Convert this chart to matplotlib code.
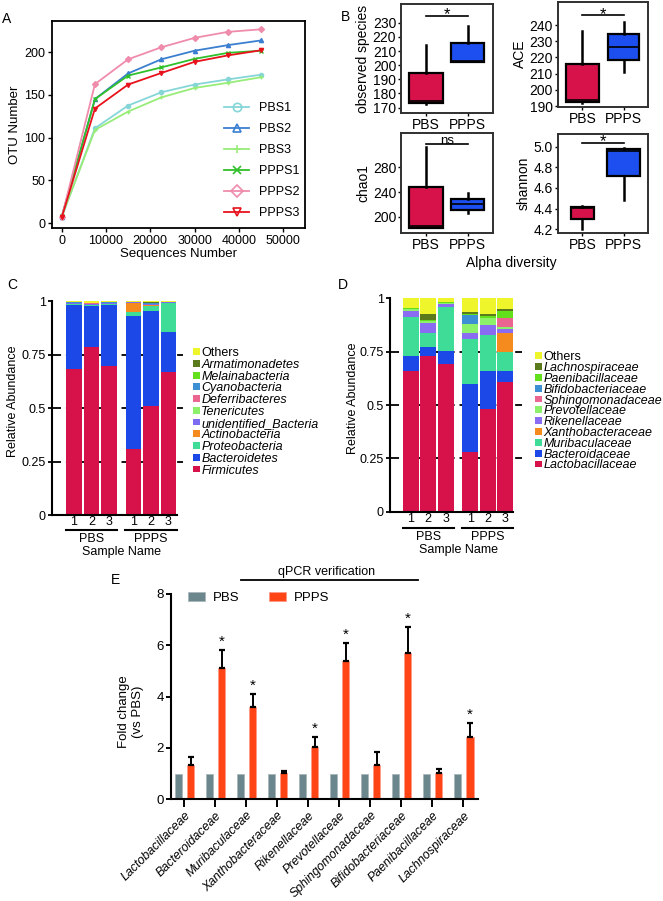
import numpy as np
import matplotlib.pyplot as plt
from matplotlib.lines import Line2D
from matplotlib.patches import Rectangle
import matplotlib.transforms as mtransforms

plt.rcParams['font.family'] = ['Liberation Sans', 'DejaVu Sans']

# ---- A: rarefaction curves ----
seq_depth = [0, 7500, 15000, 22500, 30000, 37500, 45000]
otu_pbs1 = [7, 111, 137.5, 153, 162, 168, 173.5]
otu_pbs2 = [7, 145, 175, 191.5, 201.5, 208, 213.5]
otu_pbs3 = [8, 109, 130.5, 147, 158, 164, 170.5]
otu_ppps1 = [8, 145, 172.5, 182, 192, 199, 201.5]
otu_ppps2 = [7, 162.5, 191.5, 205.5, 216.5, 223.5, 226.5]
otu_ppps3 = [7, 134, 162, 175.5, 188.5, 196, 202]
curve_names = ['PBS1', 'PBS2', 'PBS3', 'PPPS1', 'PPPS2', 'PPPS3']

# ---- B: alpha diversity (box stats: whislo, q1, med, q3, whishi) ----
groups = ['PBS', 'PPPS']
obs_pbs = [172.8, 173.3, 174.5, 194.8, 214.5]
obs_ppps = [202.0, 202.3, 202.7, 215.6, 228.0]
ace_pbs = [191.7, 192.3, 193.5, 215.7, 236.3]
ace_ppps = [210.8, 218.4, 226.6, 234.6, 242.0]
chao_pbs = [182.1, 182.3, 184.9, 248.6, 313.4]
chao_ppps = [205.4, 210.8, 220.0, 229.1, 238.8]
shan_pbs = [4.206, 4.297, 4.405, 4.413, 4.426]
shan_ppps = [4.484, 4.716, 4.958, 4.974, 4.987]

# ---- C: phylum composition (bottom -> top), samples PBS1-3, PPPS1-3 ----
sample_ticks = ['1', '2', '3', '1', '2', '3']
phylum_names = ['Firmicutes', 'Bacteroidetes', 'Proteobacteria', 'Actinobacteria',
                'unidentified_Bacteria', 'Tenericutes', 'Deferribacteres',
                'Cyanobacteria', 'Melainabacteria', 'Armatimonadetes', 'Others']
phylum_values = [
    [0.682, 0.785, 0.698, 0.310, 0.511, 0.670],
    [0.299, 0.192, 0.285, 0.620, 0.442, 0.185],
    [0.004, 0.004, 0.003, 0.020, 0.025, 0.135],
    [0.001, 0.001, 0.001, 0.040, 0.002, 0.001],
    [0.003, 0.004, 0.002, 0.003, 0.004, 0.002],
    [0.001, 0.001, 0.001, 0.001, 0.002, 0.001],
    [0.002, 0.002, 0.002, 0.001, 0.002, 0.002],
    [0.001, 0.001, 0.001, 0.001, 0.002, 0.001],
    [0.000, 0.000, 0.000, 0.000, 0.001, 0.000],
    [0.000, 0.001, 0.000, 0.000, 0.005, 0.000],
    [0.007, 0.009, 0.007, 0.004, 0.004, 0.003],
]

# ---- D: family composition ----
family_names = ['Lactobacillaceae', 'Bacteroidaceae', 'Muribaculaceae', 'Xanthobacteraceae',
                'Rikenellaceae', 'Prevotellaceae', 'Sphingomonadaceae',
                'Bifidobacteriaceae', 'Paenibacillaceae', 'Lachnospiraceae', 'Others']
family_values = [
    [0.661, 0.731, 0.692, 0.281, 0.480, 0.606],
    [0.069, 0.042, 0.063, 0.316, 0.179, 0.055],
    [0.184, 0.063, 0.206, 0.211, 0.169, 0.089],
    [0.000, 0.000, 0.000, 0.001, 0.001, 0.086],
    [0.027, 0.047, 0.011, 0.027, 0.046, 0.019],
    [0.009, 0.009, 0.005, 0.042, 0.031, 0.009],
    [0.001, 0.002, 0.001, 0.003, 0.002, 0.044],
    [0.001, 0.001, 0.001, 0.040, 0.002, 0.002],
    [0.002, 0.004, 0.002, 0.005, 0.005, 0.032],
    [0.002, 0.028, 0.001, 0.008, 0.010, 0.006],
    [0.044, 0.073, 0.018, 0.066, 0.075, 0.052],
]

# ---- E: qPCR ----
qpcr_families = ['Lactobacillaceae', 'Bacteroidaceae', 'Muribaculaceae', 'Xanthobacteraceae',
                 'Rikenellaceae', 'Prevotellaceae', 'Sphingomonadaceae',
                 'Bifidobacteriaceae', 'Paenibacillaceae', 'Lachnospiraceae']
qpcr_pbs = [1.0, 1.0, 1.0, 1.0, 1.0, 1.0, 1.0, 1.0, 1.0, 1.0]
qpcr_ppps = [1.32, 5.13, 3.61, 1.04, 2.03, 5.37, 1.32, 5.70, 1.04, 2.44]
qpcr_err = [0.32, 0.69, 0.49, 0.07, 0.40, 0.72, 0.51, 1.00, 0.15, 0.55]
qpcr_sig = ['', '*', '*', '', '*', '*', '', '*', '', '*']

W, H = 663, 901
fig = plt.figure(figsize=(W / 100, H / 100), dpi=100)


def px_rect(l, t, r, b):
    return [l / W, 1 - b / H, (r - l) / W, (b - t) / H]


def fx(x):
    return x / W


def fy(y):
    return 1 - y / H


RED = '#d7124a'
BLUE = '#1d4ff0'

# ================= A =================
axA = fig.add_axes(px_rect(52, 21, 305, 228))
curve_colors = ['#86d6d8', '#3b7fd0', '#98ec78', '#2fc02a', '#f08cab', '#e8121c']
curve_markers = ['o', '^', '+', 'x', 'D', 'v']
for vals, c, m in zip([otu_pbs1, otu_pbs2, otu_pbs3, otu_ppps1, otu_ppps2, otu_ppps3],
                      curve_colors, curve_markers):
    axA.plot(seq_depth, vals, color=c, lw=1.3, marker=m, ms=3, mew=1)
axA.set_xlim(-2200, 54950)
axA.set_ylim(-5.5, 236.2)
axA.set_xticks([0, 10000, 20000, 30000, 40000, 50000])
axA.set_yticks([0, 50, 100, 150, 200])
axA.tick_params(direction='out', length=3, width=1, labelsize=9, pad=2)
for s in axA.spines.values():
    s.set_linewidth(1.3)
axA.set_xlabel('Sequences Number', fontsize=9.5, labelpad=1)
axA.set_ylabel('OTU Number', fontsize=9.5, labelpad=2)
handles = [Line2D([], [], color=c, lw=1.3, marker=m, ms=6, mfc='none', mew=1.2, label=n)
           for c, m, n in zip(curve_colors, curve_markers, curve_names)]
fig.legend(handles=handles, loc='center left', bbox_to_anchor=(fx(224), fy(160.5)),
           frameon=False, fontsize=9, borderpad=0, borderaxespad=0, handlelength=2.0,
           handletextpad=0.8, labelspacing=0.72)

# ================= B =================


def box_panel(rect, pbs, ppps, widths, ylim, yticks, ylabel, sig, sig_y, fmt=None):
    ax = fig.add_axes(px_rect(*rect))
    stats = []
    for g, v in zip(groups, [pbs, ppps]):
        stats.append(dict(label=g, whislo=v[0], q1=v[1], med=v[2], q3=v[3], whishi=v[4], fliers=[]))
    bp = ax.bxp(stats, positions=[1, 2], widths=widths, patch_artist=True, showfliers=False,
                showcaps=False,
                boxprops=dict(linewidth=1.6, edgecolor='black'),
                medianprops=dict(color='black', linewidth=1.2),
                whiskerprops=dict(color='black', linewidth=1.8))
    for patch, c in zip(bp['boxes'], [RED, BLUE]):
        patch.set_facecolor(c)
    ax.set_xlim(0.4, 2.6)
    ax.set_ylim(*ylim)
    ax.set_yticks(yticks)
    if fmt:
        ax.set_yticklabels([fmt % t for t in yticks])
    ax.tick_params(direction='out', length=2.5, width=1, labelsize=10, pad=1)
    for s in ax.spines.values():
        s.set_linewidth(1.4)
        s.set_color('#303030')
    ax.set_ylabel(ylabel, fontsize=10, labelpad=2)
    ax.plot([1, 2], [sig_y, sig_y], color='black', lw=1.2)
    if sig == 'ns':
        ax.annotate(sig, (1.5, sig_y), xytext=(0, 0.3), textcoords='offset points',
                    ha='center', va='baseline', fontsize=9.5)
    else:
        ax.annotate(sig, (1.5, sig_y), xytext=(0, -2.5), textcoords='offset points',
                    ha='center', va='baseline', fontsize=12)
    return ax


box_panel((401, 4, 492.7, 113.3), obs_pbs, obs_ppps, [0.8, 0.79], (166.0, 243.2),
          [170, 180, 190, 200, 210, 220, 230], 'observed species', '*', 234.9)
box_panel((557.7, 1.7, 648.3, 106.7), ace_pbs, ace_ppps, [0.8, 0.76], (189.6, 254.4),
          [190, 200, 210, 220, 230, 240], 'ACE', '*', 245.9)
box_panel((401, 133, 492.7, 233), chao_pbs, chao_ppps, [0.8, 0.78], (173.6, 335.6),
          [200, 240, 280], 'chao1', 'ns', 317.8)
box_panel((557.7, 134, 648.3, 232.7), shan_pbs, shan_ppps, [0.57, 0.79], (4.167, 5.123),
          [4.2, 4.4, 4.6, 4.8, 5.0], 'shannon', '*', 5.039, fmt='%.1f')
fig.text(fx(511), fy(263), 'Alpha diversity', fontsize=10, ha='center', va='center')

# ================= C / D =================
sample_pos = np.array([0, 1, 2, 3.4, 4.4, 5.4])


def stack_panel(rect, xlim, axis_end, values, names, colors, key_x, key_y0, key_step,
                ylabel_x, line_y, grp_y, name_y):
    ax = fig.add_axes(px_rect(*rect))
    bottom = np.zeros(len(sample_pos))
    for vals, c in zip(values, colors):
        ax.bar(sample_pos, vals, width=0.91, bottom=bottom, color=c, linewidth=0, zorder=2)
        bottom = bottom + np.array(vals)
    for yv in [0.25, 0.5, 0.75]:
        ax.axhline(yv, color='black', lw=1.3, ls=(0, (5, 2.7)), zorder=1)
    ax.set_xlim(*xlim)
    ax.set_ylim(0, 1)
    ax.spines['top'].set_visible(False)
    ax.spines['right'].set_visible(False)
    ax.spines['left'].set_linewidth(1.5)
    ax.spines['bottom'].set_linewidth(1.5)
    ax.spines['bottom'].set_bounds(xlim[0], axis_end)
    ax.set_yticks([0, 0.25, 0.5, 0.75, 1])
    ax.set_yticklabels(['0', '0.25', '0.5', '0.75', '1'])
    ax.tick_params(axis='y', direction='out', length=3, width=1.3, labelsize=9, pad=1.5)
    ax.set_xticks(sample_pos)
    ax.set_xticklabels(sample_ticks)
    ax.tick_params(axis='x', length=0, labelsize=9, pad=1)
    fig.text(fx(ylabel_x), fy(rect[1] + 100), 'Relative Abundance', rotation=90,
             fontsize=9, ha='center', va='center')
    tr = mtransforms.blended_transform_factory(ax.transData, fig.transFigure)
    for lo, hi, g in [(0, 2, 'PBS'), (3.4, 5.4, 'PPPS')]:
        ax.add_line(Line2D([lo - 0.46, hi + 0.46], [fy(line_y), fy(line_y)], transform=tr,
                           color='black', lw=1.5, clip_on=False))
        ax.text((lo + hi) / 2, fy(grp_y), g, transform=tr, ha='center', va='center', fontsize=9)
    ax.text(2.7, fy(name_y), 'Sample Name', transform=tr, ha='center', va='center', fontsize=9)
    # key, top entry = last stacked taxon
    for i, (n, c) in enumerate(zip(names[::-1], colors[::-1])):
        y = key_y0 + i * key_step
        fig.add_artist(Rectangle((fx(key_x), fy(y + 3.4)), 6.8 / W, 6.8 / H,
                                 facecolor=c, edgecolor='none', transform=fig.transFigure))
        fig.text(fx(key_x + 8.5), fy(y), n, fontsize=9, ha='left', va='center_baseline',
                 style='normal' if n == 'Others' else 'italic')
    return ax


phylum_colors = [RED, '#1d48e8', '#3edc97', '#f58b1e', '#7c6cf2', '#8cf06a', '#ea6590',
                 '#3b8fd2', '#62e01c', '#5b7a1c', '#eef52a']
stack_panel((52, 301, 183, 515), (-1.257, 6.23), 5.87, phylum_values, phylum_names,
            phylum_colors, 192.7, 351.7, 11.73, 13.5, 529.5, 538.5, 551.7)

family_colors = [RED, '#1d48e8', '#3edc97', '#f58b1e', '#8a6cf2', '#8cf06a', '#ea6590',
                 '#3b8fd2', '#62e01c', '#5b7a1c', '#eef52a']
stack_panel((390, 298.3, 521.7, 511.7), (-1.19, 6.34), 5.86, family_values, family_names,
            family_colors, 535, 355.7, 10.83, 352.7, 528.3, 537.3, 550)

# ================= E =================
axE = fig.add_axes(px_rect(171, 594, 478, 799.3))
xe = np.arange(len(qpcr_families))
axE.bar(xe - 0.19, qpcr_pbs, width=0.25, color='#6c868d', edgecolor='#a9b7bb', linewidth=0.6,
        label='PBS')
axE.bar(xe + 0.2, qpcr_ppps, width=0.25, color='#ff4516', edgecolor='#ff9a86', linewidth=0.6,
        label='PPPS')
axE.errorbar(xe + 0.2, qpcr_ppps, yerr=[np.zeros(len(qpcr_err)), qpcr_err], fmt='none',
             ecolor='black', elinewidth=1.4, capsize=2, capthick=1.6)
for xi, v, e, s in zip(xe, qpcr_ppps, qpcr_err, qpcr_sig):
    if s:
        axE.annotate(s, (xi + 0.2, v + e), xytext=(0, 3), textcoords='offset points',
                     ha='center', va='baseline', fontsize=11)
axE.set_xlim(-0.43, 9.47)
axE.set_ylim(0, 8)
axE.set_yticks([0, 2, 4, 6, 8])
axE.spines['top'].set_visible(False)
axE.spines['right'].set_visible(False)
axE.spines['left'].set_linewidth(1.5)
axE.spines['bottom'].set_linewidth(1.5)
axE.tick_params(axis='y', direction='out', length=3.5, width=1.4, labelsize=9.5, pad=1.5)
axE.set_xticks(xe)
axE.set_xticklabels(qpcr_families, rotation=45, ha='right', rotation_mode='anchor',
                    style='italic', fontsize=8.9)
axE.tick_params(axis='x', direction='out', length=6, width=1.4, pad=1.2)
fig.text(fx(131), fy(712), 'Fold change\n(vs PBS)', rotation=90, fontsize=9.5,
         ha='center', va='center', multialignment='center', linespacing=1.3)
fig.legend(handles=axE.get_legend_handles_labels()[0][:2], loc='center left',
           bbox_to_anchor=(fx(188), fy(598)), ncol=2, frameon=False, fontsize=9.5,
           borderpad=0, borderaxespad=0, handlelength=1.3, handleheight=0.75,
           handletextpad=0.6, columnspacing=2.2)
fig.text(fx(327), fy(572), 'qPCR verification', fontsize=9, ha='center', va='center')
fig.add_artist(Line2D([fx(240.7), fx(417.7)], [fy(580.3), fy(580.3)], color='black', lw=1.3))

# panel letters
for lab, x, y in [('A', 6.5, 19), ('B', 345, 17), ('C', 12.5, 285), ('D', 343, 285),
                  ('E', 115, 580)]:
    fig.text(fx(x), fy(y), lab, fontsize=10, ha='center', va='center')

fig.savefig('out.png', dpi=100)
